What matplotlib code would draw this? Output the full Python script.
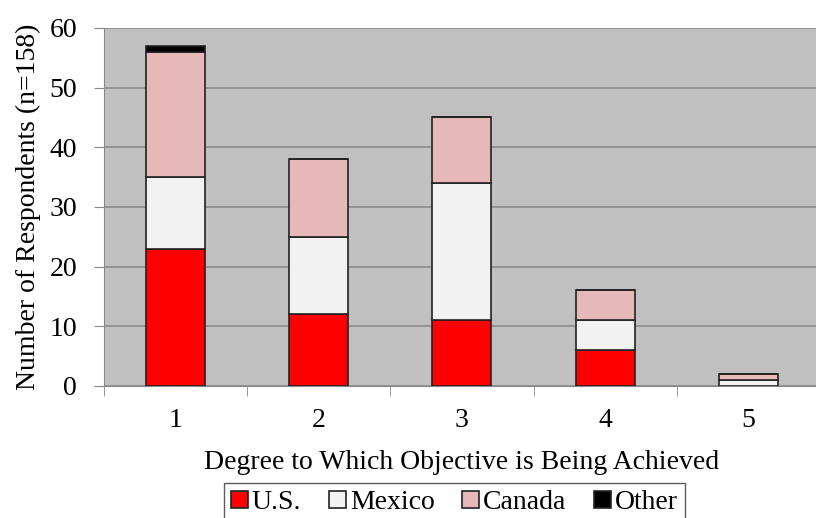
import numpy as np
import matplotlib
matplotlib.use("Agg")
from matplotlib import pyplot as plt

plt.rcParams['font.family'] = ['Liberation Serif', 'DejaVu Serif']

categories = ["1", "2", "3", "4", "5"]
us = [23, 12, 11, 6, 0]
mexico = [12, 13, 23, 5, 1]
canada = [21, 13, 11, 5, 1]
other = [1, 0, 0, 0, 0]

fig = plt.figure(figsize=(8.16, 5.18), dpi=100)
ax = fig.add_axes([0.127, 0.255, 0.878, 0.691])
ax.set_facecolor("#c0c0c0")

x = np.arange(len(categories))
w = 0.41
bottom = np.zeros(len(categories))
series = [("U.S.", us, "#ff0000"), ("Mexico", mexico, "#f2f2f2"),
          ("Canada", canada, "#e6b9b8"), ("Other", other, "#000000")]
for name, vals, col in series:
    ax.bar(x, vals, w, bottom=bottom, color=col, edgecolor="#222222", linewidth=1.2,
           label=name, zorder=3)
    bottom += np.array(vals)

ax.set_xlim(-0.5, 4.5)
ax.set_ylim(0, 60)
ax.set_yticks(range(0, 61, 10))
ax.yaxis.grid(True, color="#8c8c8c", linewidth=1.2, zorder=0)
ax.set_xticks(x)
ax.set_xticklabels(categories, fontsize=20)
ax.set_xticks(np.arange(-0.5, 5, 1), minor=True)
ax.tick_params(axis="x", which="major", length=0, pad=16)
ax.tick_params(axis="x", which="minor", length=7, color="#888888")
ax.tick_params(axis="y", labelsize=20, length=7, pad=12, color="#888888")
for s in ["top", "right"]:
    ax.spines[s].set_visible(False)
for s in ["left", "bottom"]:
    ax.spines[s].set_color("#888888")

ax.set_xlabel("Degree to Which Objective is Being Achieved", fontsize=20, labelpad=12)
ax.set_ylabel("Number of Respondents (n=158)", fontsize=20, labelpad=6)

leg = fig.legend(loc="lower center", bbox_to_anchor=(0.557, -0.035), ncol=4, fontsize=20,
                 frameon=True, fancybox=False, edgecolor="#333333", handlelength=0.6,
                 handleheight=0.6, handletextpad=0.15, columnspacing=1.0, borderpad=0.25)

fig.savefig("out.png", dpi=100)
